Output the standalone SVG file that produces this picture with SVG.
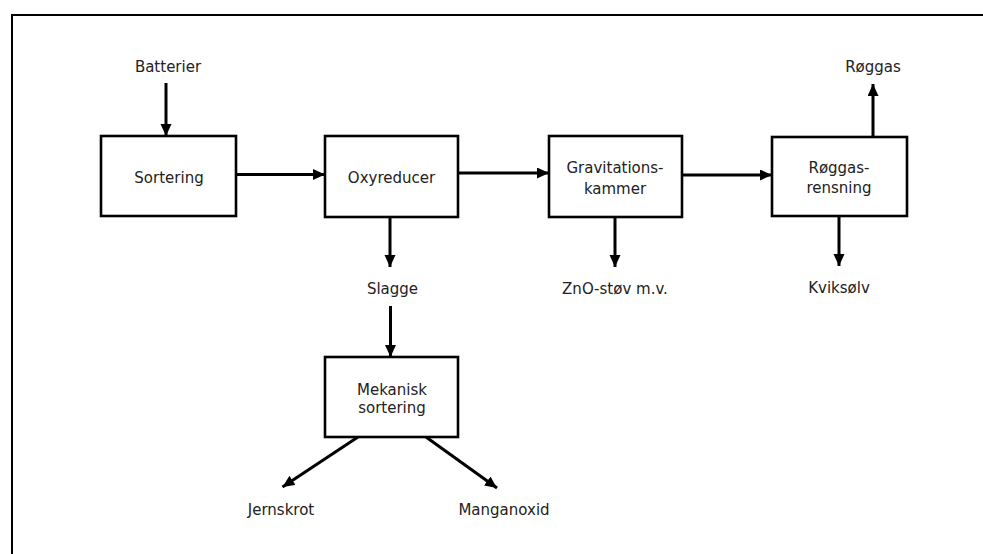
<svg xmlns="http://www.w3.org/2000/svg" width="983" height="554" viewBox="0 0 983 554">
<style>
.box{fill:#fff;stroke:#000;stroke-width:2.6}
.t{font-family:"DejaVu Sans",Verdana,sans-serif;font-size:15px;fill:#222;text-anchor:middle}
.c{stroke:#000;stroke-width:3;fill:none}
</style>
<defs>
<marker id="ah" markerUnits="userSpaceOnUse" markerWidth="13" markerHeight="12" refX="12" refY="5.5" orient="auto" viewBox="0 0 13 12">
<path d="M0,0 L12,5.5 L0,11 z" fill="#000"/>
</marker>
</defs>
<rect x="12" y="15" width="1000" height="600" fill="none" stroke="#000" stroke-width="2"/>
<g id="connectors">
<line class="c" x1="166" y1="83" x2="166" y2="136" marker-end="url(#ah)"/>
<line class="c" x1="233" y1="174.5" x2="325" y2="174.5" marker-end="url(#ah)"/>
<line class="c" x1="458" y1="173" x2="549" y2="173" marker-end="url(#ah)"/>
<line class="c" x1="682" y1="175" x2="772" y2="175" marker-end="url(#ah)"/>
<line class="c" x1="873" y1="137" x2="873" y2="84" marker-end="url(#ah)"/>
<line class="c" x1="390" y1="217" x2="390" y2="267" marker-end="url(#ah)"/>
<line class="c" x1="615" y1="217" x2="615" y2="267" marker-end="url(#ah)"/>
<line class="c" x1="839" y1="216" x2="839" y2="266" marker-end="url(#ah)"/>
<line class="c" x1="390.5" y1="306" x2="390.5" y2="357" marker-end="url(#ah)"/>
<line class="c" x1="358" y1="437" x2="282.5" y2="487" marker-end="url(#ah)"/>
<line class="c" x1="426" y1="437" x2="497" y2="488" marker-end="url(#ah)"/>
</g>
<g id="batterier"><text class="t" x="168" y="72">Batterier</text></g>
<g id="sortering"><rect class="box" x="101" y="136" width="135" height="80"/><text class="t" x="169" y="183">Sortering</text></g>
<g id="oxyreducer"><rect class="box" x="325" y="136" width="133" height="81"/><text class="t" x="391.5" y="182.5">Oxyreducer</text></g>
<g id="gravitationskammer"><rect class="box" x="549" y="136" width="133" height="81"/><text class="t" x="615" y="173">Gravitations-</text><text class="t" x="615" y="194">kammer</text></g>
<g id="roeggasrensning"><rect class="box" x="772" y="137" width="135" height="79"/><text class="t" x="839" y="173">Røggas-</text><text class="t" x="839" y="193">rensning</text></g>
<g id="roeggas"><text class="t" x="873" y="72">Røggas</text></g>
<g id="slagge"><text class="t" x="392.5" y="294">Slagge</text></g>
<g id="znostoev"><text class="t" x="615" y="294">ZnO-støv m.v.</text></g>
<g id="kviksoelv"><text class="t" x="839" y="293">Kviksølv</text></g>
<g id="mekanisk"><rect class="box" x="325" y="357" width="133" height="80"/><text class="t" x="392" y="395">Mekanisk</text><text class="t" x="392" y="413">sortering</text></g>
<g id="jernskrot"><text class="t" x="281" y="515">Jernskrot</text></g>
<g id="manganoxid"><text class="t" x="504" y="515">Manganoxid</text></g>
</svg>
